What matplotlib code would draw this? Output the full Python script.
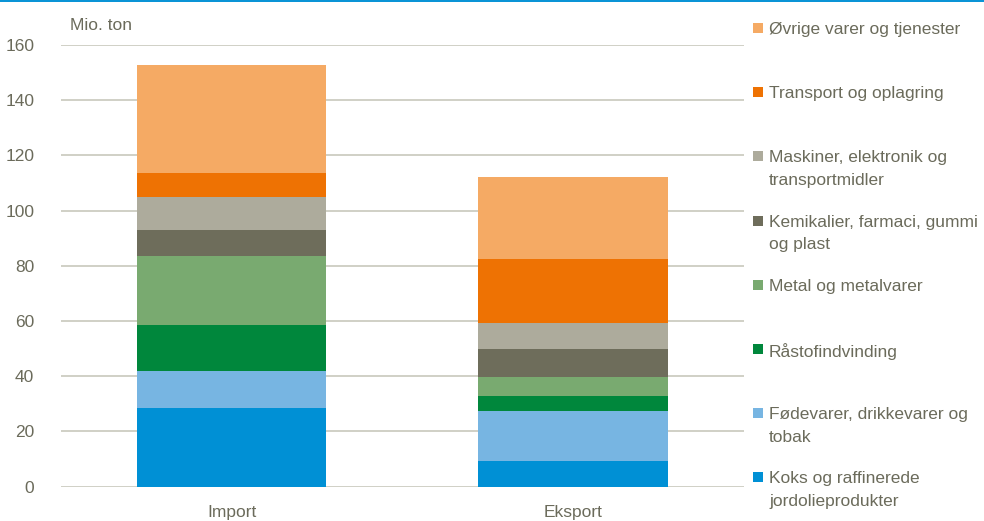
import numpy as np
import matplotlib
matplotlib.use('Agg')
import matplotlib.pyplot as plt
from matplotlib.patches import Rectangle

plt.rcParams['font.family'] = ['Liberation Sans', 'DejaVu Sans']

# data (mio. ton), bottom to top of the stack
groups = ['Import', 'Eksport']
categories = ['Koks og raffinerede\njordolieprodukter',
              'Fødevarer, drikkevarer og\ntobak',
              'Råstofindvinding',
              'Metal og metalvarer',
              'Kemikalier, farmaci, gummi\nog plast',
              'Maskiner, elektronik og\ntransportmidler',
              'Transport og oplagring',
              'Øvrige varer og tjenester']
import_vals = [28.6, 13.3, 16.7, 25.0, 9.4, 11.9, 8.8, 39.1]
export_vals = [9.2, 18.2, 5.5, 6.8, 10.3, 9.3, 23.3, 29.5]
colors = ['#0090d5', '#77b5e2', '#00873c', '#79aa70',
          '#6e6d5b', '#adab9c', '#ee7203', '#f5aa64']
yticks = [0, 20, 40, 60, 80, 100, 120, 140, 160]

txt_col = '#6b6b5b'
W, H = 984, 521

fig = plt.figure(figsize=(W / 100, H / 100), dpi=100)
ax = fig.add_axes([60.7 / W, 1 - 486.7 / H, (744 - 60.7) / W, (486.7 - 45) / H])

x = np.arange(len(groups))
bottom = np.zeros(len(groups))
for i, cat in enumerate(categories):
    vals = np.array([import_vals[i], export_vals[i]])
    ax.bar(x, vals, width=0.555, bottom=bottom, color=colors[i], zorder=3)
    bottom += vals

ax.set_xlim(-0.5, 1.5)
ax.set_ylim(0, 160)
ax.set_yticks(yticks)
ax.set_xticks(x)
ax.set_xticklabels(groups)
ax.grid(axis='y', color='#c4c3b6', linewidth=1.1, zorder=0)
for s in ax.spines.values():
    s.set_visible(False)
ax.tick_params(length=0, labelsize=12.5, labelcolor=txt_col)
ax.tick_params(axis='y', pad=19)
ax.tick_params(axis='x', pad=13)

fig.text(70 / W, 1 - 26 / H, 'Mio. ton', fontsize=12.5, color=txt_col,
         ha='left', va='center')

# top blue rule
fig.add_artist(Rectangle((0, 1 - 2 / H), 1, 2 / H, transform=fig.transFigure,
                         color='#0a94d6', lw=0))

# legend, drawn by hand (top entry = last category)
y0 = 28
step = 64.2
for k, i in enumerate(range(len(categories) - 1, -1, -1)):
    yc = y0 + k * step
    fig.add_artist(Rectangle((753 / W, 1 - (yc + 5) / H), 10 / W, 10 / H,
                             transform=fig.transFigure, color=colors[i], lw=0))
    fig.text(769 / W, 1 - (yc - 6) / H, categories[i], fontsize=12.5,
             color=txt_col, ha='left', va='top', linespacing=1.65)

fig.savefig('out.png', dpi=100)
